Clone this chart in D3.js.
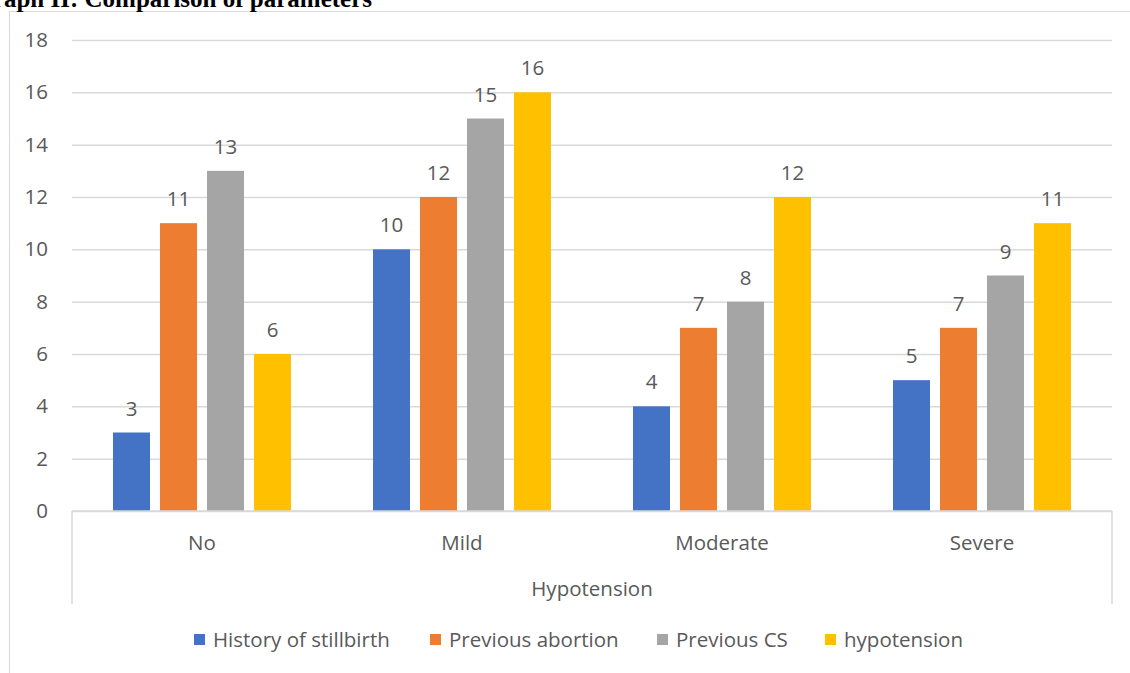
<!DOCTYPE html>
<html>
<head>
<meta charset="utf-8">
<script src="https://cdn.jsdelivr.net/npm/d3@7/dist/d3.min.js"></script>
<style>
  html, body { margin: 0; padding: 0; background: #fff; }
  svg { display: block; }
</style>
</head>
<body>
<svg id="chart" width="1130" height="673"></svg>
<script>
const categories = ["No", "Mild", "Moderate", "Severe"];
const seriesNames = ["History of stillbirth", "Previous abortion", "Previous CS", "hypotension"];
const stillbirth = [3, 10, 4, 5];
const abortion = [11, 12, 7, 7];
const previousCS = [13, 15, 8, 9];
const hypotension = [6, 16, 12, 11];
const yTicks = [0, 2, 4, 6, 8, 10, 12, 14, 16, 18];
const colors = ["#4472C4", "#ED7D31", "#A5A5A5", "#FFC000"];
const axisTitle = "Hypotension";
const chartTitle = "Graph II: Comparison of parameters";

const seriesValues = [stillbirth, abortion, previousCS, hypotension];
const font = "'Open Sans', sans-serif";
const fs = 20.5;
const textColor = "#595959";
const gridColor = "#d9d9d9";

const svg = d3.select("#chart");
const plotLeft = 72, plotRight = 1112, plotTop = 40, plotBottom = 511;

const x0 = d3.scaleBand().domain(categories).range([plotLeft, plotRight]).paddingInner(0).paddingOuter(0);
const x1 = d3.scaleBand().domain(seriesNames).range([41, 260 - 41]).paddingInner(10 / 47).paddingOuter(0);
const y = d3.scaleLinear().domain([0, 18]).range([plotBottom, plotTop]);

// outer frame
svg.append("rect").attr("x", 9.5).attr("y", 11.5).attr("width", 1140).attr("height", 700)
  .attr("fill", "none").attr("stroke", gridColor).attr("stroke-width", 1);

// title (partly cut off at the page edge, as in the source)
svg.append("text").attr("x", 372).attr("y", 7).attr("text-anchor", "end")
  .attr("font-family", "'Liberation Serif', 'Times New Roman', serif").attr("font-weight", "bold")
  .attr("font-size", 25).attr("fill", "#000").text(chartTitle);

// gridlines
const yAxis = d3.axisLeft(y).tickValues(yTicks).tickSize(-(plotRight - plotLeft)).tickPadding(24);
const gy = svg.append("g").attr("transform", `translate(${plotLeft},0)`).call(yAxis);
gy.select(".domain").remove();
gy.selectAll(".tick line").attr("stroke", gridColor).attr("stroke-width", 1.5);
gy.selectAll(".tick text").attr("font-family", font).attr("font-size", fs).attr("fill", textColor);

// bars
const groups = svg.append("g").selectAll("g").data(categories).join("g")
  .attr("transform", d => `translate(${x0(d)},0)`);
groups.selectAll("rect").data((c, i) => seriesNames.map((s, j) => ({ s, j, v: seriesValues[j][i] })))
  .join("rect")
  .attr("x", d => x1(d.s)).attr("width", x1.bandwidth())
  .attr("y", d => y(d.v)).attr("height", d => y(0) - y(d.v))
  .attr("fill", d => colors[d.j]);
groups.selectAll("text").data((c, i) => seriesNames.map((s, j) => ({ s, j, v: seriesValues[j][i] })))
  .join("text")
  .attr("x", d => x1(d.s) + x1.bandwidth() / 2).attr("y", d => y(d.v) - 17)
  .attr("text-anchor", "middle").attr("font-family", font).attr("font-size", fs).attr("fill", textColor)
  .text(d => d.v);

// category axis
const xAxis = d3.axisBottom(x0).tickSize(0).tickPadding(24);
const gx = svg.append("g").attr("transform", `translate(0,${plotBottom})`).call(xAxis);
gx.select(".domain").remove();
gx.selectAll(".tick text").attr("font-family", font).attr("font-size", fs).attr("fill", textColor);
svg.append("line").attr("x1", plotLeft).attr("x2", plotRight).attr("y1", plotBottom).attr("y2", plotBottom)
  .attr("stroke", gridColor).attr("stroke-width", 1.5);
[plotLeft, plotRight].forEach(xx => svg.append("line").attr("x1", xx).attr("x2", xx).attr("y1", plotBottom).attr("y2", 604)
  .attr("stroke", gridColor).attr("stroke-width", 1.5));

svg.append("text").attr("x", (plotLeft + plotRight) / 2).attr("y", 596).attr("text-anchor", "middle")
  .attr("font-family", font).attr("font-size", fs).attr("fill", textColor).text(axisTitle);

// legend
const legendX = [194, 430, 657, 825];
const lg = svg.append("g").selectAll("g").data(seriesNames).join("g")
  .attr("transform", (d, i) => `translate(${legendX[i]},634)`);
lg.append("rect").attr("width", 11).attr("height", 11).attr("fill", (d, i) => colors[i]);
lg.append("text").attr("x", 19).attr("y", 13).attr("font-family", font).attr("font-size", fs)
  .attr("fill", textColor).text(d => d);
</script>
</body>
</html>
